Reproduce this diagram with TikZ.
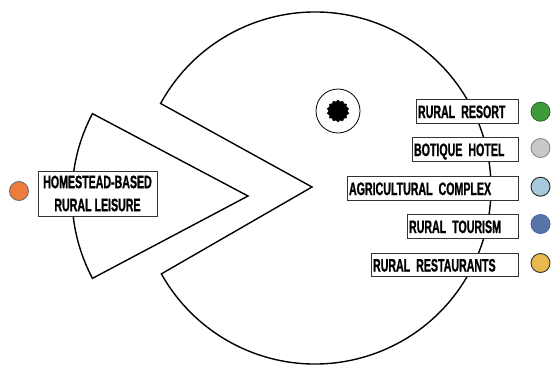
\documentclass[tikz,border=0pt]{standalone}
\usepackage{fontspec}
\setmainfont{Liberation Sans}
\newfontfamily\lblfont[FakeStretch=0.59,FakeBold=1,UprightFont=* Bold,BoldFont=* Bold]{Liberation Sans}
\DeclareRobustCommand\mylblfont{\lblfont\fontsize{18}{24}\selectfont\spaceskip=3pt plus 1pt\relax}
\usetikzlibrary{calc,shapes.geometric}
\definecolor{cgreen}{HTML}{3E9B3A}
\definecolor{cgreenl}{HTML}{2C6E2A}
\definecolor{cgray}{HTML}{C8C8C8}
\definecolor{cgrayl}{HTML}{8A8A8A}
\definecolor{clblue}{HTML}{A6C9DC}
\definecolor{cblue}{HTML}{5874A8}
\definecolor{cbluel}{HTML}{5060B8}
\definecolor{cyellow}{HTML}{E8B94E}
\definecolor{corange}{HTML}{EE7D3B}
\definecolor{boxline}{HTML}{333333}
\begin{document}
\begin{tikzpicture}[x=1pt,y=-1pt,
  shapeline/.style={draw=black,line width=1.4pt,line join=miter},
  lblbase/.style={draw=boxline,fill=white,line width=0.9pt,font=\mylblfont,inner xsep=1.5pt,inner ysep=0pt},
  lbl/.style={lblbase,text height=13pt,text depth=0pt,minimum height=23.5pt,align=left,anchor=east},
  dot/.style={circle,minimum size=19pt,inner sep=0pt,line width=0.9pt}]
\useasboundingbox (0,0) rectangle (556,364);
% pacman
\coordinate (C) at (315,188);
\coordinate (M) at (312,187);
\draw[shapeline] (M) -- ($(C)+(151.3:176pt)$) arc[start angle=151.3,end angle=-150.8,radius=176pt] -- cycle;
% slice
\coordinate (V) at (248,196);
\draw[shapeline] (V) -- ($(V)+(152.1:176pt)$) arc[start angle=152.1,end angle=207.9,radius=176pt] -- cycle;
% eye
\node[draw,circle,minimum size=44pt,inner sep=0pt,line width=0.8pt] (eye) at (338,111) {};
\node[star,star points=14,star point ratio=1.18,minimum size=22pt,inner sep=0pt,fill=black,draw=black,line width=0.4pt] (pupil) at (eye.center) {};
% left label
\node[lblbase,align=center,minimum width=119pt,minimum height=45pt] (home) at (97.5,193.5) {HOMESTEAD-BASED\\[-1pt]RURAL LEISURE};
\node[dot,fill=corange,draw=cgrayl!80!black] (dhome) at (19,191) {};
% right labels
\node[lbl,text width=99pt] (resort) at (519,111.5) {RURAL RESORT};
\node[lbl,text width=103pt] (hotel) at (519,149.5) {BOTIQUE HOTEL};
\node[lbl,text width=168pt] (agri) at (519,188.5) {AGRICULTURAL COMPLEX};
\node[lbl,text width=108pt] (tour) at (519,226.5) {RURAL TOURISM};
\node[lbl,text width=144pt] (rest) at (519,265) {RURAL RESTAURANTS};
\node[dot,fill=cgreen,draw=cgreenl] (d1) at (540.5,111.7) {};
\node[dot,fill=cgray,draw=cgrayl] (d2) at (540.5,148) {};
\node[dot,fill=clblue,draw=black!85] (d3) at (540.5,186.7) {};
\node[dot,fill=cblue,draw=cbluel] (d4) at (540.5,224) {};
\node[dot,fill=cyellow,draw=black!80] (d5) at (540.5,263) {};
\end{tikzpicture}
\end{document}
